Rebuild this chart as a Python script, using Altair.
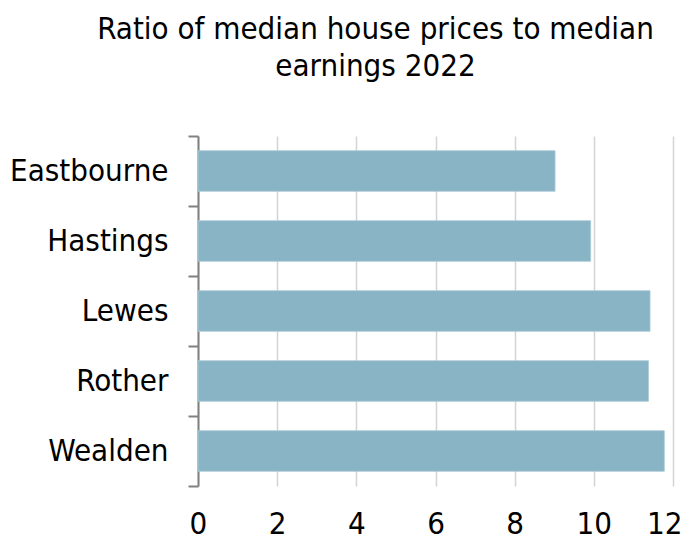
import altair as alt
import pandas as pd

districts = ["Eastbourne", "Hastings", "Lewes", "Rother", "Wealden"]
ratios = [9.02, 9.92, 11.42, 11.38, 11.78]
x_ticks = [0, 2, 4, 6, 8, 10, 12]
title_lines = ["Ratio of median house prices to median", "earnings 2022"]

df = pd.DataFrame({"district": districts, "ratio": ratios})

FONT = "DejaVu Sans Condensed"
FS = 31

chart = alt.Chart(df).mark_bar(color="#89B4C6", stroke="#A9CAD6", strokeWidth=0.8,
                               height=alt.RelativeBandSize(0.58)).encode(
    y=alt.Y("district:N", sort=districts, title=None,
            scale=alt.Scale(paddingInner=0, paddingOuter=0),
            axis=alt.Axis(tickBand="extent", tickSize=10, tickColor="#808080", tickWidth=2,
                          domainColor="#808080", domainWidth=2, labelPadding=20,
                          labelFont=FONT, labelFontSize=FS, labelColor="#000000",
                          grid=False)),
    x=alt.X("ratio:Q", title=None,
            scale=alt.Scale(domain=[0, 12], nice=False),
            axis=alt.Axis(values=x_ticks, domain=False, ticks=False, grid=True,
                          gridColor="#D4D4D4", gridWidth=1.5, labelPadding=23,
                          labelFlush=True, labelFlushOffset=9,
                          labelFont=FONT, labelFontSize=FS, labelColor="#000000")),
).properties(
    width=475, height=350,
    padding={"left": 190, "top": 128, "right": 10, "bottom": 56},
    autosize=alt.AutoSizeParams(type="none"),
    title=alt.TitleParams(title_lines, font=FONT, fontSize=FS, fontWeight="normal",
                          color="#000000", anchor="middle", dx=-60, offset=37,
                          lineHeight=37),
).configure_view(stroke=None)

chart.save("out.html", embed_options={"renderer": "svg", "actions": False})
